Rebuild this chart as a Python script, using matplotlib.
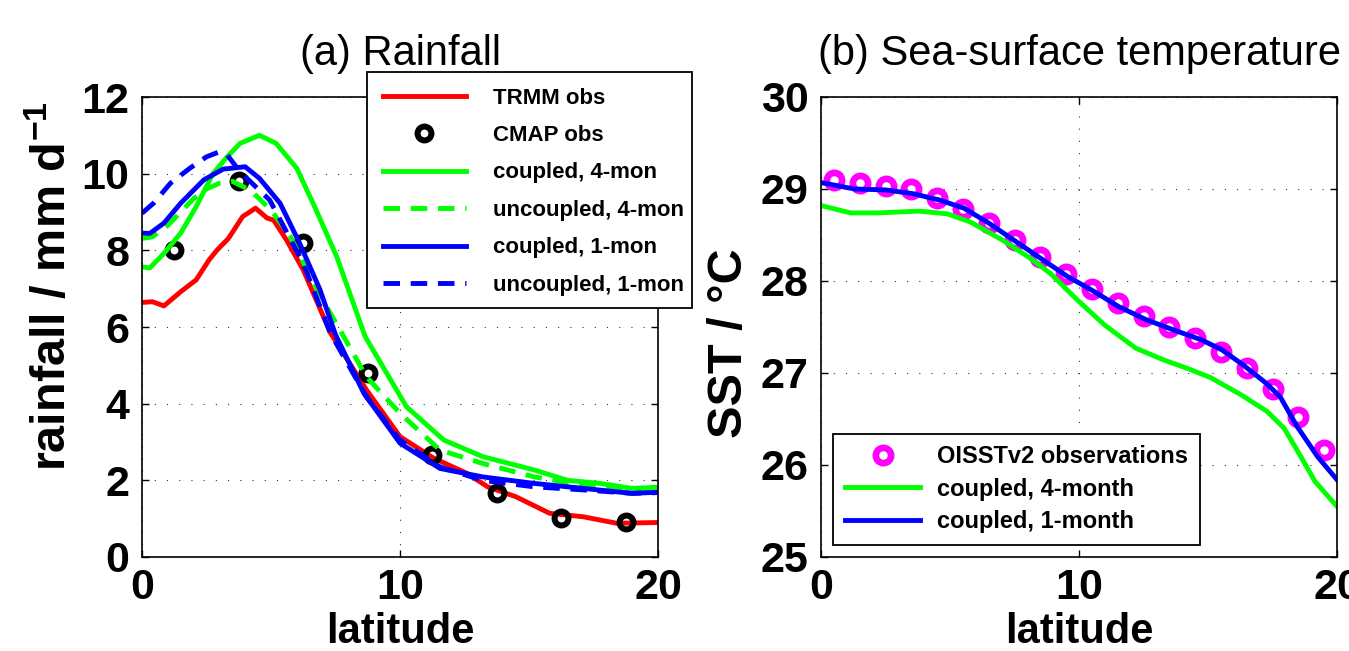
import matplotlib
matplotlib.use("Agg")
import matplotlib.pyplot as plt
from matplotlib.patches import Rectangle

plt.rcParams['font.family'] = ['Liberation Sans', 'DejaVu Sans']
plt.rcParams['mathtext.fontset'] = 'custom'
plt.rcParams['mathtext.rm'] = 'Liberation Sans'
plt.rcParams['mathtext.bf'] = 'Liberation Sans:bold'
plt.rcParams['mathtext.default'] = 'bf'

# ---------------- (a) Rainfall data ----------------
trmm_lat = [0, 0.4, 0.85, 1.5, 2.1, 2.6, 2.9, 3.35, 3.9, 4.4, 4.85, 5.1, 5.6, 6.25,
            7.3, 8.7, 10.0, 11.3, 12.6, 13.4, 14.5, 15.8, 17.1, 18.4, 20]
trmm_val = [6.64, 6.66, 6.55, 6.92, 7.23, 7.75, 8.0, 8.31, 8.88, 9.1, 8.84, 8.79, 8.27, 7.49,
            5.85, 4.36, 3.14, 2.58, 2.18, 1.83, 1.57, 1.14, 1.05, 0.88, 0.9]

cmap_lat = [1.25, 3.75, 6.25, 8.75, 11.25, 13.75, 16.25, 18.75]
cmap_val = [8.01, 9.82, 8.18, 4.79, 2.66, 1.66, 1.01, 0.92]

c4_lat = [0, 0.3, 0.85, 1.5, 2.1, 2.75, 3.3, 3.8, 4.55, 5.2, 6.0, 6.75, 7.55, 8.65,
          10.25, 11.7, 13.2, 15.2, 16.5, 17.75, 19.0, 20]
c4_val = [7.57, 7.54, 7.92, 8.45, 9.14, 10.0, 10.44, 10.79, 11.0, 10.79, 10.14, 9.05, 7.83, 5.75,
          3.92, 3.05, 2.62, 2.27, 2.0, 1.92, 1.79, 1.82]

u4_lat = [0, 0.4, 1.0, 1.5, 2.0, 2.5, 3.0, 3.5, 4.2, 5.0, 5.75, 6.5, 7.1, 7.65, 8.7,
          10.0, 11.55, 13.2, 15.2, 17.1, 20]
u4_val = [8.31, 8.35, 8.65, 9.0, 9.35, 9.6, 9.75, 9.8, 9.57, 9.05, 8.36, 7.35, 6.6, 5.95, 4.7,
          3.75, 2.79, 2.44, 2.09, 1.88, 1.75]

c1_lat = [0, 0.3, 0.85, 1.5, 2.4, 3.15, 4.0, 4.55, 5.35, 6.1, 6.9, 7.5, 8.6, 10.0,
          11.55, 13.2, 15.2, 17.1, 19.0, 20]
c1_val = [8.45, 8.44, 8.71, 9.23, 9.84, 10.12, 10.18, 9.88, 9.23, 8.2, 6.97, 5.8, 4.27, 2.97,
          2.31, 2.09, 1.92, 1.79, 1.66, 1.69]

u1_lat = [0, 0.45, 1.1, 1.85, 2.5, 3.0, 3.3, 3.8, 4.95, 6.25, 7.3, 8.7, 10.0,
          11.55, 13.2, 15.2, 17.1, 19.0, 20]
u1_val = [8.97, 9.23, 9.75, 10.14, 10.44, 10.57, 10.49, 10.05, 9.31, 7.66, 5.84, 4.18, 3.05,
          2.35, 2.0, 1.83, 1.75, 1.66, 1.68]

# ---------------- (b) SST data ----------------
oi_lat = [0.5, 1.5, 2.5, 3.5, 4.5, 5.5, 6.5, 7.5, 8.5, 9.5, 10.5, 11.5, 12.5, 13.5,
          14.5, 15.5, 16.5, 17.5, 18.5, 19.5]
oi_val = [29.10, 29.07, 29.03, 29.00, 28.90, 28.78, 28.63, 28.45, 28.26, 28.08, 27.91, 27.76,
          27.62, 27.50, 27.38, 27.23, 27.05, 26.83, 26.52, 26.16]

sst_c1_lat = [0, 1.3, 2.5, 3.55, 4.6, 5.55, 6.5, 7.55, 8.6, 9.55, 10.5, 11.55, 12.6, 13.65,
              14.75, 15.55, 16.35, 17.25, 17.8, 18.45, 19.25, 20]
sst_c1_val = [29.07, 29.0, 28.99, 28.95, 28.88, 28.79, 28.63, 28.43, 28.23, 28.05, 27.90, 27.72,
              27.58, 27.47, 27.36, 27.25, 27.09, 26.89, 26.74, 26.42, 26.09, 25.84]

sst_c4_lat = [0, 1.15, 2.2, 3.8, 4.9, 5.8, 7.0, 8.1, 8.9, 9.95, 11.0, 12.2, 13.3, 14.2,
              15.1, 16.3, 17.3, 17.95, 18.6, 19.15, 20]
sst_c4_val = [28.82, 28.74, 28.74, 28.76, 28.73, 28.64, 28.45, 28.25, 28.08, 27.79, 27.52, 27.27,
              27.14, 27.05, 26.95, 26.76, 26.58, 26.40, 26.09, 25.82, 25.55]

rain_xticks = [0, 10, 20]
rain_yticks = [0, 2, 4, 6, 8, 10, 12]
sst_xticks = [0, 10, 20]
sst_yticks = [25, 26, 27, 28, 29, 30]

W, H = 1349, 651
fig = plt.figure(figsize=(W / 100, H / 100), dpi=100)

ax1 = fig.add_axes([142 / W, 1 - 557 / H, 516 / W, 460 / H])
ax2 = fig.add_axes([821 / W, 1 - 557 / H, 516 / W, 460 / H])

LW = 3.5
DASH = (3.4, 2.2)
TICKFS = 31
XLABFS = 30
YLABFS = 35
TITLEFS = 30

ax1.plot(trmm_lat, trmm_val, color='#ff0000', lw=LW, label='TRMM obs')
ax1.plot(cmap_lat, cmap_val, ls='none', marker='o', ms=10, mew=4.3, mfc='none', mec='black',
         label='CMAP obs')
ax1.plot(c4_lat, c4_val, color='#00ff00', lw=LW, label='coupled, 4-mon')
ax1.plot(u4_lat, u4_val, color='#00ff00', lw=LW, dashes=DASH, label='uncoupled, 4-mon')
ax1.plot(c1_lat, c1_val, color='#0000ff', lw=LW, label='coupled, 1-mon')
ax1.plot(u1_lat, u1_val, color='#0000ff', lw=LW, dashes=DASH, label='uncoupled, 1-mon')

ax2.plot(oi_lat, oi_val, ls='none', marker='o', ms=11, mew=4.8, mfc='none', mec='#ff00ff',
         label='OISSTv2 observations')
ax2.plot(sst_c4_lat, sst_c4_val, color='#00ff00', lw=LW, label='coupled, 4-month')
ax2.plot(sst_c1_lat, sst_c1_val, color='#0000ff', lw=LW, label='coupled, 1-month')

for ax, xt, yt in [(ax1, rain_xticks, rain_yticks), (ax2, sst_xticks, sst_yticks)]:
    ax.set_xticks(xt)
    ax.set_yticks(yt)
    ax.set_xlim(xt[0], xt[-1])
    ax.set_ylim(yt[0], yt[-1])
    ax.set_axisbelow(True)
    ax.grid(True, color='#333333', lw=0.8, dashes=(1, 10))
    ax.tick_params(direction='in', length=5, width=1, top=True, right=True,
                   labelsize=TICKFS)
    ax.tick_params(axis='x', pad=8)
    ax.tick_params(axis='y', pad=9)
    for lab in ax.get_xticklabels() + ax.get_yticklabels():
        lab.set_fontweight('bold')
    for sp in ax.spines.values():
        sp.set_linewidth(1.2)
    ax.set_xlabel('latitude', fontsize=XLABFS, fontweight='bold', labelpad=3)

ax1.set_ylabel('rainfall / mm d$^{-1}$', fontsize=YLABFS, fontweight='bold')
ax2.set_ylabel('SST / \u00b0C', fontsize=YLABFS, fontweight='bold')
ax1.yaxis.set_label_coords(-0.128, 0.59)
ax2.yaxis.set_label_coords(-0.133, 0.464)
ax1.set_title('(a) Rainfall', fontsize=TITLEFS, pad=23)
ax2.set_title('(b) Sea-surface temperature', fontsize=TITLEFS, pad=23)

# legend (a): frame drawn as a separate rectangle so its size matches the reference
frame1 = Rectangle((367 / W, 1 - 308 / H), (692 - 367) / W, (308 - 72) / H,
                   transform=fig.transFigure, facecolor='white', edgecolor='black',
                   lw=1.3, zorder=4.5, clip_on=False)
ax1.add_patch(frame1)
leg1 = ax1.legend(loc='upper left', bbox_to_anchor=(367 / W, 1 - 72 / H),
                  bbox_transform=fig.transFigure, borderaxespad=0,
                  prop={'family': 'Liberation Sans', 'weight': 'bold', 'size': 16},
                  handlelength=3.75, handletextpad=1.2, labelspacing=0.74, borderpad=0.7,
                  frameon=False, numpoints=1)

leg2 = ax2.legend(loc='lower left', bbox_to_anchor=(833 / W, 1 - 545 / H),
                  bbox_transform=fig.transFigure, borderaxespad=0,
                  prop={'family': 'Liberation Sans', 'weight': 'bold', 'size': 17},
                  handlelength=3.2, handletextpad=0.7, labelspacing=0.4, borderpad=0.5,
                  fancybox=False, framealpha=1, edgecolor='black', numpoints=1)
leg2.get_frame().set_linewidth(1.3)

fig.savefig('out.png', dpi=100)
